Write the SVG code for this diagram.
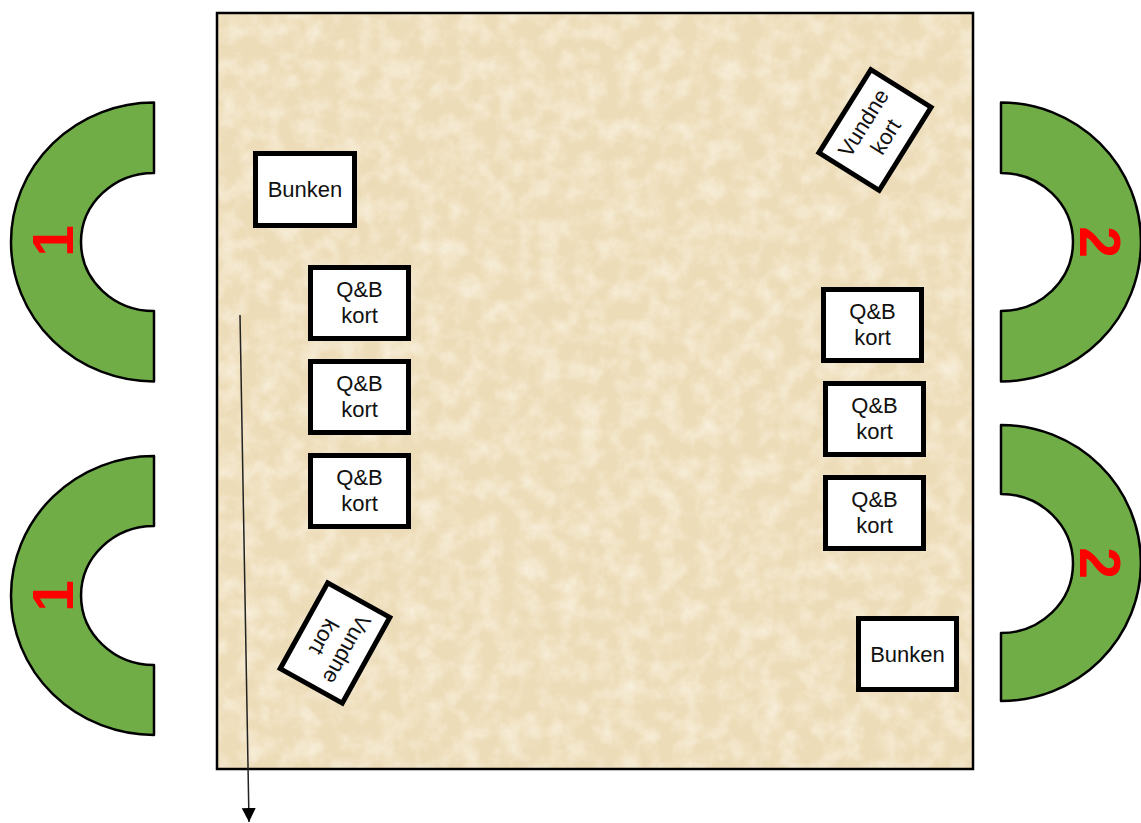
<svg xmlns="http://www.w3.org/2000/svg" width="1141" height="823" viewBox="0 0 1141 823">
<style>
.seat{fill:#70AD47;stroke:#000;stroke-width:2.5;stroke-linejoin:round}
.num{font-family:"Liberation Sans",Arial,sans-serif;font-weight:bold;font-size:57px;fill:#FF0000;text-anchor:middle}
.card{fill:#fff;stroke:#000;stroke-width:5}
.lbl{font-family:"Liberation Sans",Arial,sans-serif;font-size:22px;fill:#111;text-anchor:middle}
.conn{stroke:#222;stroke-width:1.5;fill:none}
</style>
<defs>
<filter id="tex" x="0" y="0" width="100%" height="100%">
<feTurbulence type="fractalNoise" baseFrequency="0.05" numOctaves="4" seed="7" result="n"/>
<feColorMatrix in="n" type="matrix" values="0 0 0 0 0.98  0 0 0 0 0.94  0 0 0 0 0.84  0 0 0 -1.2 0.75"/>
</filter>
<marker id="ah" markerUnits="userSpaceOnUse" markerWidth="16" markerHeight="16" refX="14" refY="7" orient="auto">
<path d="M0,0 L14,7 L0,14 Z" fill="#000"/>
</marker>
</defs>
<rect width="1141" height="823" fill="#fff"/>
<g id="table">
<rect x="217" y="13" width="756" height="756" fill="#EDDCB8"/>
<rect x="217" y="13" width="756" height="756" fill="#fff" filter="url(#tex)"/>
<rect x="217" y="13" width="756" height="756" fill="none" stroke="#000" stroke-width="2.5"/>
</g>
<g id="seat-1-top">
<path class="seat" d="M154,102.5 A143,139.5 0 0 0 154,381.5 L154,311 A73,69 0 0 1 154,173 Z"/>
<text class="num" transform="translate(52,241) rotate(-90)" x="0" y="20.5">1</text>
</g>
<g id="seat-1-bottom">
<path class="seat" d="M154,456 A143,139.5 0 0 0 154,735 L154,665 A73,69.5 0 0 1 154,526 Z"/>
<text class="num" transform="translate(52,596) rotate(-90)" x="0" y="20.5">1</text>
</g>
<g id="seat-2-top">
<path class="seat" d="M1001,102.5 A140,139.5 0 0 1 1001,381.5 L1001,311 A72,69 0 0 0 1001,173 Z"/>
<text class="num" transform="translate(1100,242) rotate(90)" x="0" y="20.5">2</text>
</g>
<g id="seat-2-bottom">
<path class="seat" d="M1001,425 A140,138 0 0 1 1001,701 L1001,633 A72,69.5 0 0 0 1001,494 Z"/>
<text class="num" transform="translate(1100,563) rotate(90)" x="0" y="20.5">2</text>
</g>
<g id="bunken-left">
<rect class="card" x="255.5" y="153.5" width="99" height="72"/>
<text class="lbl" x="305" y="197">Bunken</text>
</g>
<g id="qb-left-1">
<rect class="card" x="310.5" y="267.5" width="98" height="71"/>
<text class="lbl" x="359.5" y="297">Q&amp;B</text>
<text class="lbl" x="359.5" y="323">kort</text>
</g>
<g id="qb-left-2">
<rect class="card" x="310.5" y="361.5" width="98" height="71"/>
<text class="lbl" x="359.5" y="391">Q&amp;B</text>
<text class="lbl" x="359.5" y="417">kort</text>
</g>
<g id="qb-left-3">
<rect class="card" x="310.5" y="455.5" width="98" height="71"/>
<text class="lbl" x="359.5" y="485">Q&amp;B</text>
<text class="lbl" x="359.5" y="511">kort</text>
</g>
<g id="qb-right-1">
<rect class="card" x="823.5" y="289.5" width="98" height="71"/>
<text class="lbl" x="872.5" y="319">Q&amp;B</text>
<text class="lbl" x="872.5" y="345">kort</text>
</g>
<g id="qb-right-2">
<rect class="card" x="825.5" y="383.5" width="98" height="71"/>
<text class="lbl" x="874.5" y="413">Q&amp;B</text>
<text class="lbl" x="874.5" y="439">kort</text>
</g>
<g id="qb-right-3">
<rect class="card" x="825.5" y="477.5" width="98" height="71"/>
<text class="lbl" x="874.5" y="507">Q&amp;B</text>
<text class="lbl" x="874.5" y="533">kort</text>
</g>
<g id="bunken-right">
<rect class="card" x="858.5" y="618.5" width="98" height="71"/>
<text class="lbl" x="907.5" y="662">Bunken</text>
</g>
<g id="vundne-right" transform="translate(875,130) rotate(-58)">
<rect class="card" x="-49" y="-35.5" width="98" height="71"/>
<text class="lbl" x="0" y="-6">Vundne</text>
<text class="lbl" x="0" y="20">kort</text>
</g>
<g id="vundne-left" transform="translate(335,643) rotate(119)">
<rect class="card" x="-49" y="-35.5" width="98" height="71"/>
<text class="lbl" x="0" y="-6">Vundne</text>
<text class="lbl" x="0" y="20">kort</text>
</g>
<g id="connectors">
<line class="conn" x1="240" y1="315" x2="249" y2="822" marker-end="url(#ah)"/>
</g>
</svg>
